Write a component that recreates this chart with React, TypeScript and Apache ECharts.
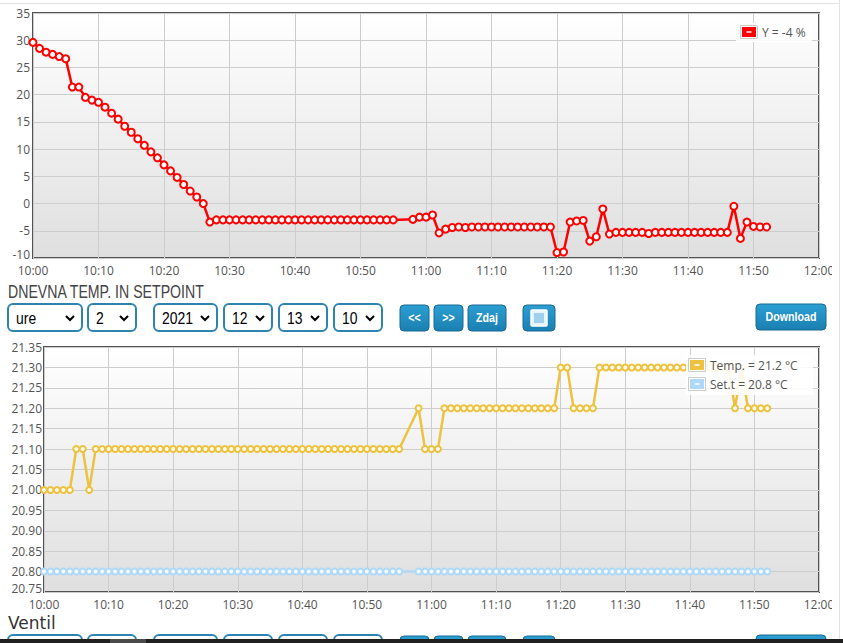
import React, { useEffect, useRef } from "react";
import * as echarts from "echarts";

// ---------- data ----------
const times: string[] = [
  "10:00","10:01","10:02","10:03","10:04","10:05","10:06","10:07","10:08","10:09",
  "10:10","10:11","10:12","10:13","10:14","10:15","10:16","10:17","10:18","10:19",
  "10:20","10:21","10:22","10:23","10:24","10:25","10:26","10:27","10:28","10:29",
  "10:30","10:31","10:32","10:33","10:34","10:35","10:36","10:37","10:38","10:39",
  "10:40","10:41","10:42","10:43","10:44","10:45","10:46","10:47","10:48","10:49",
  "10:50","10:51","10:52","10:53","10:54","10:55",
  "10:58","10:59",
  "11:00","11:01","11:02","11:03","11:04","11:05","11:06","11:07","11:08","11:09",
  "11:10","11:11","11:12","11:13","11:14","11:15","11:16","11:17","11:18","11:19",
  "11:20","11:21","11:22","11:23","11:24","11:25","11:26","11:27","11:28","11:29",
  "11:30","11:31","11:32","11:33","11:34","11:35","11:36","11:37","11:38","11:39",
  "11:40","11:41","11:42","11:43","11:44","11:45","11:46","11:47","11:48","11:49",
  "11:50","11:51","11:52",
];

const ventilY: number[] = [
  29.6, 28.5, 27.8, 27.4, 27.0, 26.6, 21.4, 21.4, 19.5, 19.0,
  18.6, 17.7, 16.6, 15.5, 14.2, 13.1, 11.9, 10.7, 9.5, 8.4,
  7.1, 6.0, 4.8, 3.5, 2.3, 1.2, 0.0, -3.4, -3.0, -3.0,
  -3.0, -3.0, -3.0, -3.0, -3.0, -3.0, -3.0, -3.0, -3.0, -3.0,
  -3.0, -3.0, -3.0, -3.0, -3.0, -3.0, -3.0, -3.0, -3.0, -3.0,
  -3.0, -3.0, -3.0, -3.0, -3.0, -3.0,
  -2.9, -2.5,
  -2.5, -2.1, -5.4, -4.7, -4.4, -4.3, -4.4, -4.3, -4.3, -4.3,
  -4.3, -4.3, -4.3, -4.3, -4.3, -4.3, -4.3, -4.3, -4.3, -4.3,
  -9.0, -8.9, -3.4, -3.2, -3.1, -6.9, -6.1, -1.0, -5.6, -5.3,
  -5.3, -5.3, -5.3, -5.3, -5.5, -5.3, -5.3, -5.3, -5.3, -5.3,
  -5.3, -5.3, -5.3, -5.3, -5.3, -5.3, -5.3, -0.5, -6.4, -3.4,
  -4.2, -4.3, -4.3,
];

const tempValues: number[] = [
  21.0, 21.0, 21.0, 21.0, 21.0, 21.1, 21.1, 21.0, 21.1, 21.1,
  21.1, 21.1, 21.1, 21.1, 21.1, 21.1, 21.1, 21.1, 21.1, 21.1,
  21.1, 21.1, 21.1, 21.1, 21.1, 21.1, 21.1, 21.1, 21.1, 21.1,
  21.1, 21.1, 21.1, 21.1, 21.1, 21.1, 21.1, 21.1, 21.1, 21.1,
  21.1, 21.1, 21.1, 21.1, 21.1, 21.1, 21.1, 21.1, 21.1, 21.1,
  21.1, 21.1, 21.1, 21.1, 21.1, 21.1,
  21.2, 21.1,
  21.1, 21.1, 21.2, 21.2, 21.2, 21.2, 21.2, 21.2, 21.2, 21.2,
  21.2, 21.2, 21.2, 21.2, 21.2, 21.2, 21.2, 21.2, 21.2, 21.2,
  21.3, 21.3, 21.2, 21.2, 21.2, 21.2, 21.3, 21.3, 21.3, 21.3,
  21.3, 21.3, 21.3, 21.3, 21.3, 21.3, 21.3, 21.3, 21.3, 21.3,
  21.3, 21.3, 21.3, 21.3, 21.3, 21.3, 21.3, 21.2, 21.3, 21.2,
  21.2, 21.2, 21.2,
];

const setValues: number[] = [
  20.8, 20.8, 20.8, 20.8, 20.8, 20.8, 20.8, 20.8, 20.8, 20.8,
  20.8, 20.8, 20.8, 20.8, 20.8, 20.8, 20.8, 20.8, 20.8, 20.8,
  20.8, 20.8, 20.8, 20.8, 20.8, 20.8, 20.8, 20.8, 20.8, 20.8,
  20.8, 20.8, 20.8, 20.8, 20.8, 20.8, 20.8, 20.8, 20.8, 20.8,
  20.8, 20.8, 20.8, 20.8, 20.8, 20.8, 20.8, 20.8, 20.8, 20.8,
  20.8, 20.8, 20.8, 20.8, 20.8, 20.8,
  20.8, 20.8,
  20.8, 20.8, 20.8, 20.8, 20.8, 20.8, 20.8, 20.8, 20.8, 20.8,
  20.8, 20.8, 20.8, 20.8, 20.8, 20.8, 20.8, 20.8, 20.8, 20.8,
  20.8, 20.8, 20.8, 20.8, 20.8, 20.8, 20.8, 20.8, 20.8, 20.8,
  20.8, 20.8, 20.8, 20.8, 20.8, 20.8, 20.8, 20.8, 20.8, 20.8,
  20.8, 20.8, 20.8, 20.8, 20.8, 20.8, 20.8, 20.8, 20.8, 20.8,
  20.8, 20.8, 20.8,
];

const legendTop = ["Y = -4 %"];
const legendBottom = ["Temp. = 21.2 °C", "Set.t = 20.8 °C"];
const sectionTitles = ["DNEVNA TEMP. IN SETPOINT", "Ventil"];
const selectLabels = ["ure", "2", "2021", "12", "13", "10"];
const buttonLabels = ["<<", ">>", "Zdaj"];
const downloadLabel = "Download";

// ---------- helpers ----------
const START_H = 10;
const toMin = (t: string) => {
  const [h, m] = t.split(":").map(Number);
  return (h - START_H) * 60 + m;
};
const fmtMin = (v: number) => {
  const h = START_H + Math.floor(v / 60);
  const m = Math.round(v % 60);
  return `${h}:${m < 10 ? "0" + m : m}`;
};
const pairs = (vals: number[]) => times.map((t, i) => [toMin(t), vals[i]]);

const RED = "#ff0000";
const GOLD = "#edc240";
const BLUE = "#afd8f8";
const TICK = "#545454";
const SANS = '"Liberation Sans", Arial, sans-serif';
const NARROW_SCALE = 0.82;

let measureCtx: CanvasRenderingContext2D | null = null;
function fitScale(text: string, font: string, target: number): number {
  try {
    if (!measureCtx) measureCtx = document.createElement("canvas").getContext("2d");
    if (!measureCtx) return NARROW_SCALE;
    measureCtx.font = font;
    const w = measureCtx.measureText(text).width;
    return w > 0 ? target / w : NARROW_SCALE;
  } catch {
    return NARROW_SCALE;
  }
}

const plotBg = {
  type: "linear", x: 0, y: 0, x2: 0, y2: 1,
  colorStops: [
    { offset: 0, color: "#ffffff" },
    { offset: 1, color: "#dfdfdf" },
  ],
};
const btnFill = {
  type: "linear", x: 0, y: 0, x2: 0, y2: 1,
  colorStops: [
    { offset: 0, color: "#2c9fd3" },
    { offset: 1, color: "#1a7fb1" },
  ],
};

const selectGeom = [
  { x: 8, w: 74 }, { x: 88, w: 48 }, { x: 154, w: 63 },
  { x: 224, w: 48 }, { x: 279, w: 48 }, { x: 334, w: 48 },
];
const btnGeom = [{ x: 400, w: 29 }, { x: 434, w: 29 }, { x: 468, w: 38 }];

function controlRow(y: number, withText: boolean): any[] {
  const els: any[] = [];
  selectGeom.forEach((g, i) => {
    els.push({
      type: "rect",
      shape: { x: g.x, y, width: g.w, height: 27, r: 5 },
      style: { fill: "#fff", stroke: "#2d84b0", lineWidth: 2 },
    });
    if (withText) {
      els.push({
        type: "text", x: g.x + 8, y: y + 14, scaleX: NARROW_SCALE,
        style: { text: selectLabels[i], font: `17px ${SANS}`, fill: "#000", verticalAlign: "middle" },
      });
      const cx = g.x + g.w - 12, cy = y + 14;
      els.push({
        type: "polyline",
        shape: { points: [[cx - 4, cy - 2], [cx, cy + 2], [cx + 4, cy - 2]] },
        style: { stroke: "#000", lineWidth: 2, fill: null },
      });
    }
  });
  btnGeom.forEach((g, i) => {
    els.push({
      type: "rect",
      shape: { x: g.x, y: y + 1, width: g.w, height: 26, r: 4 },
      style: { fill: btnFill, stroke: "#176a94", lineWidth: 1 },
    });
    if (withText) {
      els.push({
        type: "text", x: g.x + g.w / 2, y: y + 14, scaleX: NARROW_SCALE,
        style: { text: buttonLabels[i], font: `bold 13px ${SANS}`, fill: "#fff", align: "center", verticalAlign: "middle" },
      });
    }
  });
  // fullscreen button
  els.push({
    type: "rect",
    shape: { x: 523, y: y + 1, width: 32, height: 26, r: 4 },
    style: { fill: btnFill, stroke: "#176a94", lineWidth: 1 },
  });
  if (withText) {
    els.push({
      type: "rect",
      shape: { x: 531, y: y + 6, width: 16, height: 16, r: 1 },
      style: { fill: "#e6f4fc", stroke: "#ffffff", lineWidth: 1.5 },
    });
    els.push({
      type: "rect",
      shape: { x: 534, y: y + 9, width: 10, height: 10 },
      style: { fill: "#9fd0ee" },
    });
  }
  // download button
  els.push({
    type: "rect",
    shape: { x: 756, y, width: 70, height: 26, r: 4 },
    style: { fill: btnFill, stroke: "#176a94", lineWidth: 1 },
  });
  if (withText) {
    els.push({
      type: "text", x: 791, y: y + 13, scaleX: NARROW_SCALE,
      style: { text: downloadLabel, font: `bold 13px ${SANS}`, fill: "#fff", align: "center", verticalAlign: "middle" },
    });
  }
  return els;
}

function legendEntry(x: number, y: number, color: string, label: string, fontSize: number): any[] {
  return [
    {
      type: "rect",
      shape: { x: x + 0.5, y: y + 0.5, width: 17, height: 13 },
      style: { fill: "#fff", stroke: "#cccccc", lineWidth: 1 },
    },
    {
      type: "rect",
      shape: { x: x + 2, y: y + 2, width: 14, height: 10 },
      style: { fill: color },
    },
    {
      type: "line",
      shape: { x1: x + 6.5, y1: y + 7, x2: x + 11.5, y2: y + 7 },
      style: { stroke: "#fff", lineWidth: 1.5 },
    },
    {
      type: "text", x: x + 22, y: y + 7,
      style: { text: label, font: `${fontSize}px "Open Sans", sans-serif`, fill: TICK, verticalAlign: "middle" },
    },
  ];
}

export default function App() {
  const ref = useRef<HTMLDivElement>(null);
  useEffect(() => {
    if (!ref.current) return;
    const chart = echarts.init(ref.current, undefined, { renderer: "svg" });

    const titleFont = `18px ${SANS}`;
    const titleScale = fitScale(sectionTitles[0], titleFont, 197);

    const xAxisBase = {
      type: "value", min: 0, max: 120, interval: 10,
      axisLine: { show: false }, axisTick: { show: false },
      splitLine: { show: true, lineStyle: { color: "#cdcdcd", width: 1 } },
      axisLabel: { formatter: (v: number) => fmtMin(v), color: TICK, fontSize: 12, lineHeight: 12, fontFamily: "Open Sans", margin: 6 },
    };
    const yAxisBase = {
      type: "value",
      axisLine: { show: false }, axisTick: { show: false },
      splitLine: { show: true, lineStyle: { color: "#cdcdcd", width: 1 } },
    };
    const yLabelBase = {
      color: TICK, fontSize: 12, lineHeight: 8, fontFamily: "Open Sans",
      verticalAlignMinLabel: "bottom",
    };

    const graphics: any[] = [
      // page frame lines
      { type: "line", shape: { x1: 0, y1: 3.5, x2: 839, y2: 3.5 }, style: { stroke: "#e3e3e3", lineWidth: 1 } },
      { type: "rect", shape: { x: 832, y: 258, width: 6, height: 22 }, style: { fill: "#fff" }, z: 100 },
      { type: "rect", shape: { x: 832, y: 593, width: 6, height: 22 }, style: { fill: "#fff" }, z: 100 },
      { type: "line", shape: { x1: 839.5, y1: 0, x2: 839.5, y2: 643 }, style: { stroke: "#e3e3e3", lineWidth: 1 }, z: 100 },
      // legend top
      { type: "rect", shape: { x: 736, y: 23, width: 76, height: 19 }, style: { fill: "rgba(255,255,255,0.88)" }, z: 50 },
      ...legendEntry(740, 25, RED, legendTop[0], 12).map((e) => ({ ...e, z: 51 })),
      // legend bottom
      { type: "rect", shape: { x: 686, y: 355, width: 127, height: 40 }, style: { fill: "rgba(255,255,255,0.88)" }, z: 50 },
      ...legendEntry(688, 358, GOLD, legendBottom[0], 12).map((e) => ({ ...e, z: 51 })),
      ...legendEntry(688, 377, BLUE, legendBottom[1], 12).map((e) => ({ ...e, z: 51 })),
      // section titles
      {
        type: "text", x: 8, y: 291, scaleX: titleScale,
        style: { text: sectionTitles[0], font: titleFont, fill: "#444", verticalAlign: "middle" },
      },
      ...controlRow(304, true),
      {
        type: "text", x: 8, y: 623,
        style: { text: sectionTitles[1], font: '17px "DejaVu Sans", sans-serif', fill: "#333", verticalAlign: "middle" },
      },
      ...controlRow(635, false),
      // bottom dark strip
      { type: "rect", shape: { x: 0, y: 639, width: 843, height: 4 }, style: { fill: "#202020" }, z: 100 },
      { type: "rect", shape: { x: 110, y: 639, width: 36, height: 4 }, style: { fill: "#4a4a4a" }, z: 101 },
    ];

    chart.setOption({
      animation: false,
      backgroundColor: "#ffffff",
      grid: [
        { left: 33, top: 13, width: 786, height: 245, show: true, backgroundColor: plotBg, borderColor: "#525252", borderWidth: 2, containLabel: false },
        { left: 44, top: 347, width: 775, height: 245, show: true, backgroundColor: plotBg, borderColor: "#525252", borderWidth: 2, containLabel: false },
      ],
      xAxis: [
        { ...xAxisBase, gridIndex: 0 },
        { ...xAxisBase, gridIndex: 1 },
      ],
      yAxis: [
        {
          ...yAxisBase, gridIndex: 0, min: -10, max: 35, interval: 5,
          axisLabel: { ...yLabelBase, margin: 3 },
        },
        {
          ...yAxisBase, gridIndex: 1, min: 20.75, max: 21.35, interval: 0.05,
          axisLabel: { ...yLabelBase, margin: 2, formatter: (v: number) => v.toFixed(2) },
        },
      ],
      series: [
        {
          name: "Y", type: "line", xAxisIndex: 0, yAxisIndex: 0, data: pairs(ventilY),
          clip: false, symbol: "circle", symbolSize: 7, showAllSymbol: true,
          lineStyle: { color: RED, width: 2.5 },
          itemStyle: { color: "#ffffff", borderColor: RED, borderWidth: 2 },
        },
        {
          name: "Set.t", type: "line", xAxisIndex: 1, yAxisIndex: 1, data: pairs(setValues),
          clip: false, symbol: "circle", symbolSize: 6, showAllSymbol: true,
          lineStyle: { color: BLUE, width: 2.5 },
          itemStyle: { color: "#f4faff", borderColor: BLUE, borderWidth: 2 },
        },
        {
          name: "Temp.", type: "line", xAxisIndex: 1, yAxisIndex: 1, data: pairs(tempValues),
          clip: false, symbol: "circle", symbolSize: 6, showAllSymbol: true,
          lineStyle: { color: GOLD, width: 2.5 },
          itemStyle: { color: "#fffbea", borderColor: GOLD, borderWidth: 2 },
        },
      ],
      graphic: graphics,
    } as any);

    return () => chart.dispose();
  }, []);

  return (
    <div
      ref={ref}
      style={{ position: "absolute", left: 0, top: 0, width: 843, height: 643 }}
    />
  );
}
